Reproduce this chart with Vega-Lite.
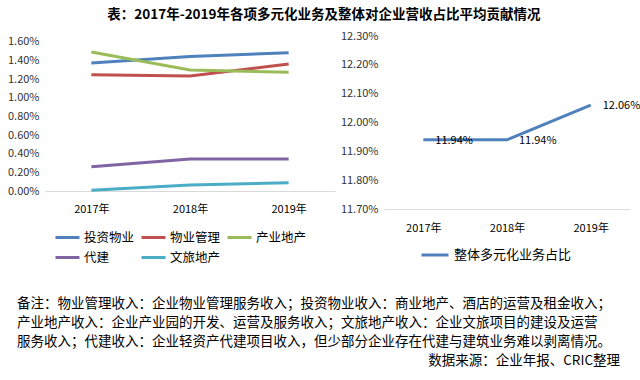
{
  "$schema": "https://vega.github.io/schema/vega-lite/v6.json",
  "padding": {"left": 7, "top": 7, "right": 0, "bottom": 0},
  "background": "white",
  "title": {"text": "表：2017年-2019年各项多元化业务及整体对企业营收占比平均贡献情况", "fontSize": 13.5, "fontWeight": "bold", "font": "Noto Sans CJK SC", "anchor": "middle", "color": "#000000", "offset": 9},
  "config": {
    "view": {"stroke": null},
    "font": "Noto Sans CJK SC",
    "axis": {"labelFont": "Noto Sans CJK SC", "labelColor": "#333333", "labelFontSize": 11, "title": null, "ticks": false, "grid": false},
    "legend": {"labelFont": "Noto Sans CJK SC", "labelColor": "#000000", "labelFontSize": 13}
  },
  "datasets": {
    "main": [
      {"year": "2017年", "series": "投资物业", "value": 1.374},
      {"year": "2018年", "series": "投资物业", "value": 1.445},
      {"year": "2019年", "series": "投资物业", "value": 1.485},
      {"year": "2017年", "series": "物业管理", "value": 1.249},
      {"year": "2018年", "series": "物业管理", "value": 1.234},
      {"year": "2019年", "series": "物业管理", "value": 1.363},
      {"year": "2017年", "series": "产业地产", "value": 1.492},
      {"year": "2018年", "series": "产业地产", "value": 1.299},
      {"year": "2019年", "series": "产业地产", "value": 1.274},
      {"year": "2017年", "series": "代建", "value": 0.261},
      {"year": "2018年", "series": "代建", "value": 0.343},
      {"year": "2019年", "series": "代建", "value": 0.343},
      {"year": "2017年", "series": "文旅地产", "value": 0.007},
      {"year": "2018年", "series": "文旅地产", "value": 0.064},
      {"year": "2019年", "series": "文旅地产", "value": 0.089}
    ],
    "total": [
      {"year": "2017年", "series": "整体多元化业务占比", "value": 11.94, "label": "11.94%"},
      {"year": "2018年", "series": "整体多元化业务占比", "value": 11.94, "label": "11.94%"},
      {"year": "2019年", "series": "整体多元化业务占比", "value": 12.06, "label": "12.06%"}
    ],
    "notes": [
      {"line": 1, "pos": 0, "text": "备注：物业管理收入：企业物业管理服务收入；投资物业收入：商业地产、酒店的运营及租金收入；"},
      {"line": 2, "pos": 0, "text": "产业地产收入：企业产业园的开发、运营及服务收入；文旅地产收入：企业文旅项目的建设及运营"},
      {"line": 3, "pos": 0, "text": "服务收入；代建收入：企业轻资产代建项目收入，但少部分企业存在代建与建筑业务难以剥离情况。"}
    ],
    "source": [
      {"line": 4, "pos": 1, "text": "数据来源：企业年报、CRIC整理"}
    ]
  },
  "spacing": 30,
  "vconcat": [
    {
      "spacing": 5,
      "resolve": {"scale": {"color": "independent", "x": "independent", "y": "independent"}, "legend": {"color": "independent"}},
      "hconcat": [
        {
          "width": 290,
          "height": 155,
          "data": {"name": "main"},
          "mark": {"type": "line", "strokeWidth": 3},
          "encoding": {
            "x": {"field": "year", "type": "ordinal", "scale": {"type": "point", "padding": 0.47}, "axis": {"labelAngle": 0, "domainColor": "#D9D9D9", "labelPadding": 12, "labelColor": "#000000"}},
            "y": {"field": "value", "type": "quantitative", "scale": {"domain": [0, 1.6644], "nice": false, "zero": true}, "axis": {"domain": false, "values": [0, 0.2, 0.4, 0.6, 0.8, 1.0, 1.2, 1.4, 1.6], "labelExpr": "format(datum.value, '.2f') + '%'", "labelPadding": 6}},
            "color": {"field": "series", "type": "nominal", "scale": {"domain": ["投资物业", "物业管理", "产业地产", "代建", "文旅地产"], "range": ["#4F81BD", "#C0504D", "#9BBB59", "#8064A2", "#4BACC6"]},
              "legend": {"title": null, "orient": "none", "legendX": 9, "legendY": 188, "direction": "horizontal", "columns": 3, "symbolType": "stroke", "symbolSize": 576, "symbolStrokeWidth": 3, "labelOffset": 3, "labelFontSize": 12.5, "columnPadding": 0, "rowPadding": -7}}
          }
        },
        {
          "width": 246,
          "height": 173,
          "data": {"name": "total"},
          "encoding": {
            "x": {"field": "year", "type": "ordinal", "scale": {"type": "point", "padding": 0.47}, "axis": {"labelAngle": 0, "domainColor": "#D9D9D9", "labelPadding": 13, "labelColor": "#000000"}},
            "y": {"field": "value", "type": "quantitative", "scale": {"domain": [11.7, 12.3], "nice": false, "zero": false}, "axis": {"domain": false, "values": [11.7, 11.8, 11.9, 12.0, 12.1, 12.2, 12.3], "labelExpr": "format(datum.value, '.2f') + '%'", "labelPadding": 6}}
          },
          "layer": [
            {
              "mark": {"type": "line", "strokeWidth": 3},
              "encoding": {
                "color": {"field": "series", "type": "nominal", "scale": {"range": ["#4F81BD"]},
                  "legend": {"title": null, "orient": "none", "legendX": 36, "legendY": 204, "symbolType": "stroke", "symbolSize": 729, "symbolStrokeWidth": 3, "labelOffset": 4}}
              }
            },
            {
              "mark": {"type": "text", "align": "left", "dx": 12, "dy": 1, "fontSize": 11, "color": "#000000"},
              "encoding": {"text": {"field": "label"}}
            }
          ]
        }
      ]
    },
    {
      "width": 575,
      "height": 76,
      "encoding": {
        "x": {"field": "pos", "type": "quantitative", "scale": {"domain": [0.04643, 1], "nice": false, "zero": false}, "axis": null},
        "y": {"field": "line", "type": "ordinal", "axis": null}
      },
      "layer": [
        {"data": {"name": "notes"}, "mark": {"type": "text", "align": "left", "fontSize": 13.5, "color": "#000000"}, "encoding": {"text": {"field": "text"}}},
        {"data": {"name": "source"}, "mark": {"type": "text", "align": "right", "fontSize": 13.5, "color": "#000000"}, "encoding": {"text": {"field": "text"}}}
      ]
    }
  ]
}
